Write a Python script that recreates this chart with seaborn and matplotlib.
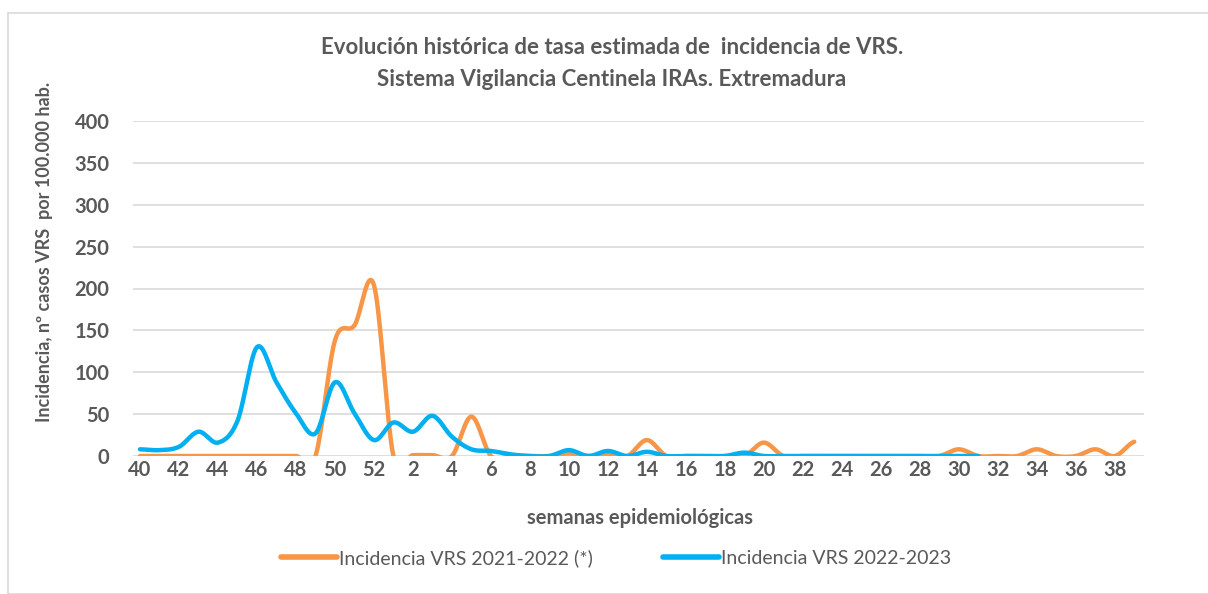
import numpy as np
import pandas as pd
import matplotlib
matplotlib.use("Agg")
import matplotlib.pyplot as plt
from matplotlib.lines import Line2D
from matplotlib.patches import Rectangle
import seaborn as sns

# epidemiological weeks 40..52 then 1..39
weeks = list(range(40, 53)) + list(range(1, 40))

inc_2122 = [0, 0, 0, 0, 0, 0, 0, 0, 0, 0, 138, 156, 204,
            0, 1, 1, 0, 47, 0, 0, 0, 0, 3, 0, 2, 0, 19, 0, 0, 0, 0, 0, 16,
            0, 0, 0, 0, 0, 0, 0, 0, 0, 8, 0, 0, 0, 8, 0, 0, 8, 0, 17]

inc_2223 = [8, 7, 11, 29, 16, 42, 130, 88, 51, 27, 88, 51, 19,
            40, 29, 48, 23, 8, 6, 2, 0, 0, 7, 0, 6, 0, 5, 0, 0, 0, 0, 4, 0,
            0, 0, 0, 0, 0, 0, 0, 0, 0, 0, 0,
            np.nan, np.nan, np.nan, np.nan, np.nan, np.nan, np.nan, np.nan]

label_2122 = "Incidencia VRS 2021-2022 (*)"
label_2223 = "Incidencia VRS 2022-2023"
col_2122 = "#F79646"
col_2223 = "#00B0F0"
txt = "#595959"


def smooth(y, n=20):
    # Excel-like smoothed line (Catmull-Rom / Bezier with 1/6 tension)
    y = np.asarray(y, dtype=float)
    ok = ~np.isnan(y)
    idx = np.arange(len(y))[ok]
    p = y[ok]
    xs, ys = [], []
    t = np.linspace(0, 1, n, endpoint=False)
    for i in range(len(p) - 1):
        p0 = p[i - 1] if i > 0 else p[i]
        p3 = p[i + 2] if i + 2 < len(p) else p[i + 1]
        p1, p2 = p[i], p[i + 1]
        c1 = p1 + (p2 - p0) / 6
        c2 = p2 - (p3 - p1) / 6
        b = (1 - t) ** 3 * p1 + 3 * (1 - t) ** 2 * t * c1 + 3 * (1 - t) * t ** 2 * c2 + t ** 3 * p2
        xs.append(idx[i] + t)
        ys.append(b)
    xs.append([idx[-1]])
    ys.append([p[-1]])
    return np.concatenate(xs), np.concatenate(ys)


frames = []
for lab, vals in [(label_2122, inc_2122), (label_2223, inc_2223)]:
    sx, sy = smooth(vals)
    frames.append(pd.DataFrame({"pos": sx, "val": sy, "serie": lab}))
df = pd.concat(frames, ignore_index=True)

sns.set_theme(style="white")
plt.rcParams["font.family"] = ["Lato", "DejaVu Sans"]

fig = plt.figure(figsize=(12.08, 5.94), dpi=100)
ax = fig.add_axes([133 / 1208, 1 - 456 / 594, (1144 - 133) / 1208, (456 - 121) / 594])

sns.lineplot(data=df, x="pos", y="val", hue="serie", sort=False,
             palette={label_2122: col_2122, label_2223: col_2223},
             linewidth=3.2, ax=ax, legend=False)

ax.set_xlim(-0.36, 51.5)
ax.set_ylim(0, 400)
ax.set_yticks(range(0, 401, 50))
ax.set_xticks(range(0, len(weeks), 2))
ax.set_xticklabels([str(w) for w in weeks[::2]])
ax.yaxis.grid(True, color="#D9D9D9", linewidth=1.2)
ax.set_axisbelow(True)
for s in ax.spines.values():
    s.set_visible(False)
ax.tick_params(axis="both", length=0, labelsize=14.5, labelcolor=txt)
ax.tick_params(axis="y", pad=17)
ax.tick_params(axis="x", pad=3)
for lbl in ax.get_xticklabels() + ax.get_yticklabels():
    lbl.set_fontweight("bold")

ax.set_xlabel("")
ax.set_ylabel("")
fig.text(640 / 1208, 1 - 518 / 594, "semanas epidemiológicas",
         ha="center", va="center", fontsize=14.5, fontweight="bold", color=txt)
fig.text(45 / 1208, 1 - 252 / 594, "Incidencia, nº casos VRS  por 100.000 hab.", rotation=90,
         ha="center", va="center", fontsize=13, fontweight="bold", color=txt)

fig.text(612 / 1208, 1 - 48 / 594, "Evolución histórica de tasa estimada de  incidencia de VRS.",
         ha="center", va="center", fontsize=16, fontweight="bold", color=txt)
fig.text(612 / 1208, 1 - 80 / 594, "Sistema Vigilancia Centinela IRAs. Extremadura",
         ha="center", va="center", fontsize=16, fontweight="bold", color=txt)

handles = [Line2D([0], [0], color=col_2122, lw=4, solid_capstyle="round"),
           Line2D([0], [0], color=col_2223, lw=4, solid_capstyle="round")]
fig.legend(handles, [label_2122, label_2223], loc="center", bbox_to_anchor=(616 / 1208, 1 - 558 / 594),
           ncol=2, frameon=False, fontsize=14, handlelength=2.9, handletextpad=0.1,
           columnspacing=3.6, labelcolor=txt)

fig.patches.append(Rectangle((8 / 1208, 0), 1, 1 - 13 / 594, transform=fig.transFigure,
                             fill=False, edgecolor="#D9D9D9", linewidth=1.2))

fig.savefig("out.png", dpi=100)
